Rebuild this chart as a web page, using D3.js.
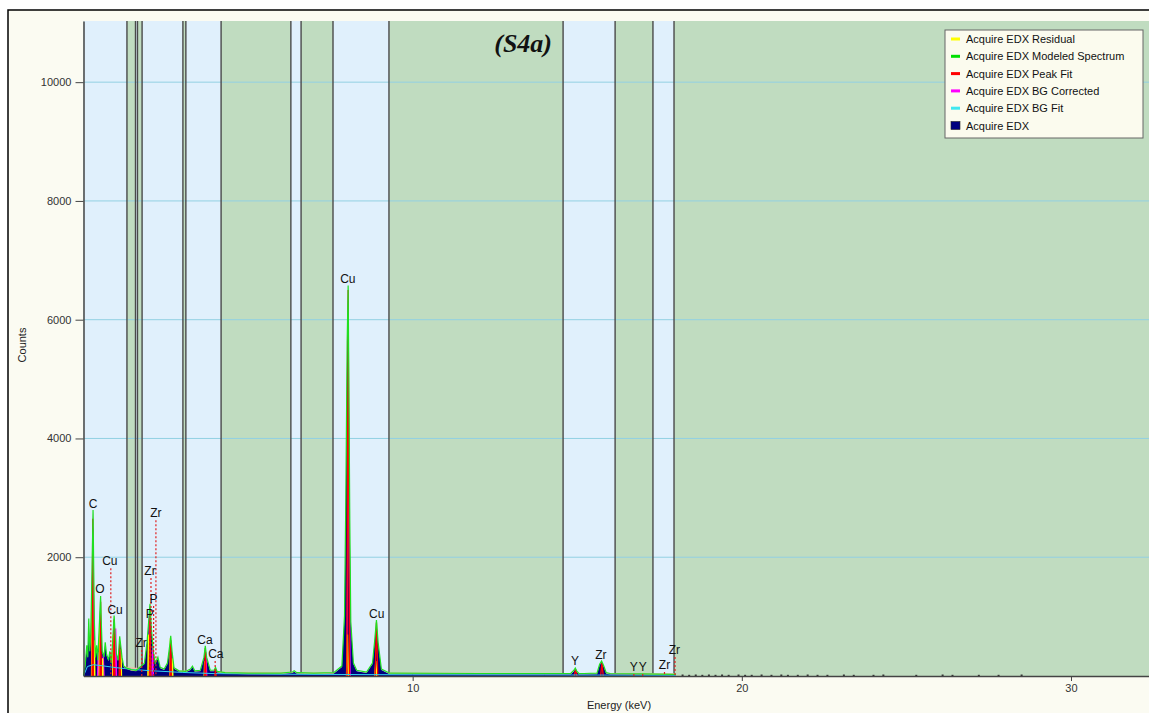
<!DOCTYPE html>
<html>
<head>
<meta charset="utf-8">
<script src="https://cdn.jsdelivr.net/npm/d3@7"></script>
<style>
  body { margin: 0; background: #fff; }
  svg { display: block; font-family: "Liberation Sans", Arial, sans-serif; }
</style>
</head>
<body>
<svg id="chart" width="1149" height="713"></svg>
<script>
// ---- data ----
const blueStart = [0.00, 1.58, 1.78, 3.11, 6.30, 7.58, 14.57, 17.30];
const blueEnd   = [1.32, 1.64, 3.02, 4.18, 6.61, 9.28, 16.15, 17.94];

const yTicks = [2000, 4000, 6000, 8000, 10000];
const xTicks = [10, 20, 30];

// Acquire EDX spectrum outline (keV, counts)
const specKeV = [0.00, 0.05, 0.10, 0.13, 0.16, 0.19, 0.22, 0.25, 0.27, 0.29, 0.31, 0.33, 0.36, 0.40, 0.43,
  0.47, 0.50, 0.52, 0.54, 0.57, 0.62, 0.66, 0.70, 0.76, 0.80, 0.84, 0.88, 0.93, 0.96, 1.00,
  1.05, 1.10, 1.13, 1.17, 1.22, 1.30, 1.45, 1.60, 1.75, 1.85, 1.93, 1.98, 2.02, 2.06, 2.12,
  2.18, 2.26, 2.33, 2.45, 2.55, 2.62, 2.65, 2.69, 2.75, 2.90, 3.10, 3.25, 3.31, 3.38, 3.55,
  3.66, 3.70, 3.74, 3.85, 3.97, 4.01, 4.06, 4.30, 5.00, 6.00, 6.35, 6.40, 6.48, 7.00, 7.60,
  7.85, 7.93, 7.97, 8.01, 8.04, 8.07, 8.09, 8.12, 8.20, 8.30, 8.60, 8.78, 8.85, 8.90, 8.95, 9.05, 9.30,
  12.0, 14.80, 14.90, 14.94, 14.98, 15.05, 15.20, 15.60, 15.68, 15.74, 15.80, 15.88, 16.00, 17.0, 18.0];
const specCounts = [0, 150, 500, 300, 950, 400, 700, 1500, 2100, 2780, 1800, 900, 300, 500, 250,
  700, 1100, 1330, 900, 400, 300, 550, 350, 250, 400, 200, 500, 1000, 700, 350,
  250, 650, 500, 300, 150, 120, 90, 80, 150, 200, 550, 900, 1200, 800, 400,
  200, 300, 130, 100, 200, 500, 660, 400, 120, 70, 60, 100, 150, 70, 80,
  300, 490, 300, 80, 80, 130, 60, 40, 30, 30, 50, 70, 40, 30, 40,
  150, 1000, 3000, 5600, 6560, 4300, 2600, 900, 200, 80, 50, 200, 600, 925, 550, 100, 30,
  25, 25, 80, 118, 70, 25, 25, 30, 180, 235, 160, 40, 25, 20, 10];

// background fit (keV, counts)
const bgKeV    = [0.00, 0.12, 0.30, 0.60, 1.00, 1.50, 2.00, 3.00, 4.00, 6.00, 8.00, 10.0, 14.0, 18.0];
const bgCounts = [0, 160, 190, 170, 140, 110, 90, 60, 40, 30, 25, 20, 18, 12];

// peak fit (red)
const fitKeV    = [0.28, 0.52, 0.93, 1.10, 2.02, 2.65, 3.70, 4.01, 8.04, 8.90, 14.95, 15.75];
const fitCounts = [2650, 1250, 950, 560, 1120, 600, 470, 120, 6500, 900, 110, 220];

// residual (yellow)
const residKeV    = [0.26, 0.33, 0.49, 0.58, 0.90, 1.14, 1.97, 2.64, 2.70, 3.68, 8.02, 8.88];
const residCounts = [1400, 600, 900, 300, 700, 450, 700, 640, 300, 250, 700, 250];

// BG corrected (magenta)
const corrKeV    = [0.29, 0.45, 0.60, 0.98, 2.00, 2.10, 3.72, 8.05];
const corrCounts = [2500, 400, 350, 800, 1000, 500, 400, 4200];

// element labels on peaks
const peakLabels = ["C", "O", "Cu", "Ca", "Cu", "Cu", "Y", "Zr"];
const peakLabelKeV = [0.29, 0.50, 0.96, 3.69, 8.03, 8.91, 14.93, 15.72];
const peakLabelCounts = [2826, 1396, 1043, 538, 6610, 975, 185, 286];

// element labels with dotted markers
const markLabels = ["Cu", "Zr", "P", "P", "Zr", "Zr", "Ca", "Y", "Y", "Zr", "Zr"];
const markLabelKeV = [0.80, 1.75, 2.01, 2.13, 2.02, 2.20, 4.02, 16.72, 16.99, 17.65, 17.95];
const markLabelCounts = [1867, 490, 975, 1228, 1700, 2675, 303, 84, 84, 118, 370];
const markLineKeV = [0.83, 1.77, 2.01, 2.13, 2.05, 2.20, 4.00, 16.72, 16.99, 17.65, 17.97];

// noise dots past 18 keV
const noiseKeV    = [18.2, 18.4, 18.6, 18.8, 19.0, 19.2, 19.4, 19.6, 19.9, 20.1, 20.3, 20.6, 20.9, 21.2, 21.4, 21.7, 22.0, 22.3, 22.6, 23.1, 23.4, 24.0, 24.3, 25.3, 26.1, 26.4, 27.2, 27.8, 28.5];
const noiseCounts = [25, 20, 25, 20, 25, 20, 25, 20, 25, 20, 20, 25, 20, 25, 20, 20, 25, 20, 20, 25, 20, 20, 25, 20, 25, 20, 20, 20, 25];

const legendNames = ["Acquire EDX Residual", "Acquire EDX Modeled Spectrum", "Acquire EDX Peak Fit",
  "Acquire EDX BG Corrected", "Acquire EDX BG Fit", "Acquire EDX"];
const legendColors = ["#ffff00", "#00e000", "#ff0000", "#ff00ff", "#40e8f0", "#000080"];

// ---- drawing ----
const svg = d3.select("#chart");
const plot = {left: 83.5, top: 21, right: 1149, bottom: 676};

const x = d3.scaleLinear().domain([0, 32.37]).range([plot.left, plot.right]);
const y = d3.scaleLinear().domain([0, 11030]).range([plot.bottom, plot.top]);

// outer frame
svg.append("rect").attr("x", 8).attr("y", 10).attr("width", 1200).attr("height", 800)
  .attr("fill", "#fbfbf2").attr("stroke", "#000").attr("stroke-width", 1.5);

const g = svg.append("g");
g.append("rect").attr("x", plot.left).attr("y", plot.top)
  .attr("width", plot.right - plot.left).attr("height", plot.bottom - plot.top)
  .attr("fill", "#c0dcc0");

const bands = blueStart.map((s, i) => ({s: s, e: blueEnd[i]}));
g.selectAll(".band").data(bands).enter().append("rect")
  .attr("x", d => x(d.s)).attr("y", plot.top)
  .attr("width", d => x(d.e) - x(d.s)).attr("height", plot.bottom - plot.top)
  .attr("fill", "#e0f0fc");

// grid
g.selectAll(".grid").data(yTicks).enter().append("line")
  .attr("x1", plot.left).attr("x2", plot.right)
  .attr("y1", d => y(d)).attr("y2", d => y(d))
  .attr("stroke", "#92d0e2").attr("stroke-width", 1);

// band borders
const edges = blueStart.slice(1).concat(blueEnd);
g.selectAll(".edge").data(edges).enter().append("line")
  .attr("x1", d => x(d)).attr("x2", d => x(d))
  .attr("y1", plot.top).attr("y2", plot.bottom)
  .attr("stroke", "#4a4a4a").attr("stroke-width", 1.4);

const spec = specKeV.map((k, i) => [k, specCounts[i]]);
const bg = bgKeV.map((k, i) => [k, bgCounts[i]]);

// background fit fill
g.append("path").datum(bg)
  .attr("d", d3.area().x(d => x(d[0])).y0(y(0)).y1(d => y(d[1]) - 2))
  .attr("fill", "#f4b8a8");

// spectrum
g.append("path").datum(spec)
  .attr("d", d3.area().x(d => x(d[0])).y0(y(0)).y1(d => y(d[1])))
  .attr("fill", "#00007c");

function spikes(keys, vals, color, w, sw) {
  g.selectAll(null).data(keys.map((k, i) => [k, vals[i]])).enter().append("path")
    .attr("d", d => {
      const hw = d[0] < 5 ? w : w * 2;
      return "M" + x(d[0] - hw) + "," + y(0) + "L" + x(d[0]) + "," + y(d[1]) + "L" + x(d[0] + hw) + "," + y(0);
    })
    .attr("fill", "none").attr("stroke", color).attr("stroke-width", sw);
}
spikes(corrKeV, corrCounts, "#ff00ff", 0.025, 1.2);
spikes(residKeV, residCounts, "#ffff00", 0.015, 1.3);
spikes(fitKeV, fitCounts, "#ff0000", 0.02, 1.3);

// BG fit
g.append("path").datum(bg)
  .attr("d", d3.line().x(d => x(d[0])).y(d => y(d[1])))
  .attr("fill", "none").attr("stroke", "#30d0f0").attr("stroke-width", 1);

// modeled spectrum
g.append("path").datum(spec)
  .attr("d", d3.line().x(d => x(d[0])).y(d => y(d[1]) - 1))
  .attr("fill", "none").attr("stroke", "#20e020").attr("stroke-width", 1.2);

// noise
g.selectAll(".noise").data(noiseKeV.map((k, i) => [k, noiseCounts[i]])).enter().append("rect")
  .attr("x", d => x(d[0]) - 1).attr("y", d => y(d[1]))
  .attr("width", 2).attr("height", d => y(0) - y(d[1]))
  .attr("fill", "#333");

// dotted markers
const marks = markLabels.map((t, i) => ({t: t, k: markLabelKeV[i], c: markLabelCounts[i], lk: markLineKeV[i]}));
g.selectAll(".mline").data(marks).enter().append("line")
  .attr("x1", d => x(d.lk)).attr("x2", d => x(d.lk))
  .attr("y1", d => y(d.c) + 3).attr("y2", y(0))
  .attr("stroke", "#e02020").attr("stroke-width", 1.2).attr("stroke-dasharray", "2,2");

const peaks = peakLabels.map((t, i) => ({t: t, k: peakLabelKeV[i], c: peakLabelCounts[i]}));
g.selectAll(".plab").data(peaks.concat(marks)).enter().append("text")
  .attr("x", d => x(d.k)).attr("y", d => y(d.c))
  .attr("text-anchor", "middle").attr("font-size", 12).attr("fill", "#111")
  .text(d => d.t);

// axes
const yAxis = g.append("g").attr("transform", "translate(" + plot.left + ",0)")
  .call(d3.axisLeft(y).tickValues(yTicks).tickSize(8).tickSizeOuter(0).tickFormat(d3.format("d")));
const xAxis = g.append("g").attr("transform", "translate(0," + plot.bottom + ")")
  .call(d3.axisBottom(x).tickValues(xTicks).tickSize(5).tickSizeOuter(0));
[yAxis, xAxis].forEach(a => {
  a.selectAll("text").attr("font-size", 11).attr("fill", "#333").attr("font-family", "Liberation Sans, Arial, sans-serif");
  a.selectAll("line").attr("stroke", "#444");
  a.select(".domain").attr("stroke", "#444").attr("stroke-width", 1.5);
});
yAxis.selectAll("text").attr("dx", "-0.1em");

svg.append("text").attr("x", 619).attr("y", 709).attr("text-anchor", "middle")
  .attr("font-size", 11).attr("fill", "#222").text("Energy (keV)");
svg.append("text").attr("transform", "translate(26,345) rotate(-90)").attr("text-anchor", "middle")
  .attr("font-size", 11).attr("fill", "#222").text("Counts");

// title
svg.append("text").attr("x", 552).attr("y", 52).attr("text-anchor", "end")
  .attr("font-family", "Liberation Serif, Times New Roman, serif")
  .attr("font-size", 26).attr("font-weight", "bold").attr("font-style", "italic")
  .attr("fill", "#111").text("(S4a)");

// legend
const lg = svg.append("g").attr("transform", "translate(945,30)");
lg.append("rect").attr("width", 198).attr("height", 108)
  .attr("fill", "#fbfbee").attr("stroke", "#666").attr("stroke-width", 1);
legendNames.forEach((n, i) => {
  const yy = 9 + i * 17.3;
  if (i < 5) {
    lg.append("rect").attr("x", 6).attr("y", yy - 1.5).attr("width", 9).attr("height", 3).attr("fill", legendColors[i]);
  } else {
    lg.append("rect").attr("x", 6).attr("y", yy - 4).attr("width", 9).attr("height", 8)
      .attr("fill", legendColors[i]).attr("stroke", "#222").attr("stroke-width", 0.6);
  }
  lg.append("text").attr("x", 21).attr("y", yy + 4).attr("font-size", 11).attr("fill", "#111").text(n);
});
</script>
</body>
</html>
